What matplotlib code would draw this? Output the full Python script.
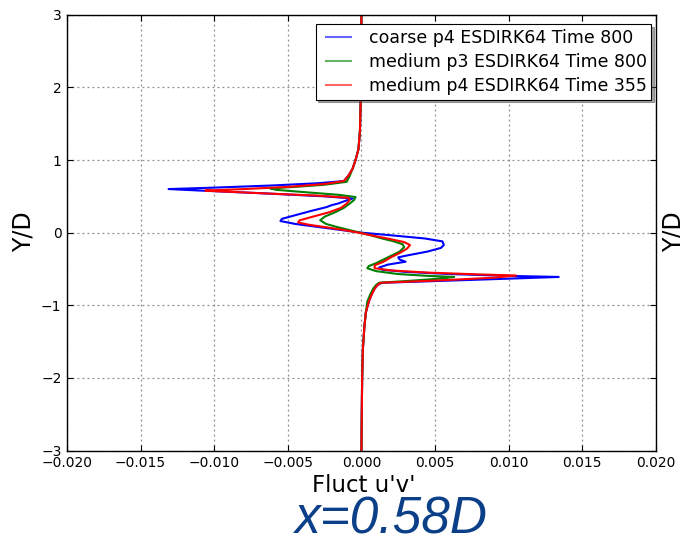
import matplotlib
matplotlib.use("Agg")
import matplotlib.pyplot as plt
from matplotlib.legend_handler import HandlerLine2D

# Reynolds-stress fluctuation u'v' profiles across the wake at x = 0.58D
y_coarse_p4 = [-3.0, -2.5, -2.0, -1.6, -1.3, -1.1, -0.95, -0.85, -0.77, -0.72, -0.69,
               -0.66, -0.63, -0.61, -0.595, -0.57, -0.54, -0.51, -0.48, -0.44, -0.40,
               -0.37, -0.34, -0.31, -0.26, -0.21, -0.17, -0.12, -0.08, -0.04, 0.0,
               0.04, 0.08, 0.12, 0.16, 0.19, 0.24, 0.30, 0.35, 0.38, 0.40, 0.43, 0.47,
               0.50, 0.54, 0.58, 0.60, 0.62, 0.65, 0.68, 0.71, 0.78, 0.88, 1.0, 1.15,
               1.4, 2.0, 3.0]
uv_coarse_p4 = [0.0, 0.00002, 0.00005, 0.0001, 0.0002, 0.0003, 0.0005, 0.0007, 0.0009,
                0.0011, 0.0014, 0.0060, 0.0105, 0.0134, 0.0100, 0.0060, 0.0030, 0.0014,
                0.0012, 0.0018, 0.0030, 0.0026, 0.0025, 0.0032, 0.0045, 0.0054, 0.0056,
                0.0055, 0.0043, 0.0022, 0.0000, -0.0015, -0.0030, -0.0045, -0.0055,
                -0.0054, -0.0045, -0.0034, -0.0024, -0.0020, -0.0016, -0.0012, -0.0006,
                -0.0025, -0.0065, -0.0110, -0.0131, -0.0100, -0.0060, -0.0030, -0.0012,
                -0.0009, -0.0006, -0.0004, -0.0002, -0.0001, -0.00003, 0.0]

y_medium_p3 = [-3.0, -2.0, -1.6, -1.3, -1.1, -0.95, -0.85, -0.77, -0.72, -0.69, -0.66,
               -0.63, -0.61, -0.595, -0.57, -0.53, -0.49, -0.46, -0.42, -0.37, -0.32,
               -0.26, -0.20, -0.16, -0.12, -0.08, -0.04, 0.0, 0.04, 0.08, 0.12, 0.17,
               0.22, 0.28, 0.34, 0.40, 0.45, 0.49, 0.52, 0.56, 0.59, 0.61, 0.63, 0.66,
               0.70, 0.78, 0.88, 1.0, 1.15, 1.4, 2.0, 3.0]
uv_medium_p3 = [0.0, 0.00005, 0.0001, 0.0002, 0.0003, 0.0004, 0.0006, 0.0008, 0.0010,
                0.0012, 0.0035, 0.0055, 0.0063, 0.0045, 0.0025, 0.0010, 0.0004, 0.0005,
                0.0010, 0.0015, 0.0020, 0.0026, 0.0029, 0.0028, 0.0022, 0.0014, 0.0007,
                -0.0001, -0.0009, -0.0017, -0.0024, -0.0028, -0.0025, -0.0018, -0.0012,
                -0.0008, -0.0005, -0.0004, -0.0015, -0.0040, -0.0058, -0.0062, -0.0045,
                -0.0025, -0.0010, -0.0008, -0.0006, -0.0004, -0.0002, -0.0001, -0.00003,
                0.0]

y_medium_p4 = [-3.0, -2.0, -1.6, -1.3, -1.1, -0.95, -0.85, -0.77, -0.72, -0.69, -0.66,
               -0.62, -0.59, -0.575, -0.55, -0.52, -0.49, -0.45, -0.40, -0.34, -0.28,
               -0.22, -0.17, -0.13, -0.09, -0.05, 0.0, 0.04, 0.08, 0.11, 0.14, 0.17,
               0.22, 0.28, 0.34, 0.40, 0.45, 0.48, 0.51, 0.54, 0.57, 0.58, 0.60, 0.63,
               0.67, 0.71, 0.78, 0.88, 1.0, 1.15, 1.4, 2.0, 3.0]
uv_medium_p4 = [0.0, 0.00005, 0.0001, 0.0002, 0.0003, 0.0005, 0.0007, 0.0009, 0.0011,
                0.0013, 0.0050, 0.0090, 0.0105, 0.0080, 0.0045, 0.0020, 0.0009, 0.0009,
                0.0015, 0.0020, 0.0026, 0.0031, 0.0033, 0.0029, 0.0020, 0.0010, -0.0002,
                -0.0013, -0.0026, -0.0036, -0.0043, -0.0042, -0.0033, -0.0022, -0.0014,
                -0.0010, -0.0008, -0.0009, -0.0030, -0.0065, -0.0098, -0.0106, -0.0080,
                -0.0050, -0.0025, -0.0012, -0.0009, -0.0006, -0.0004, -0.0002, -0.0001,
                -0.00003, 0.0]

labels = ["coarse p4 ESDIRK64 Time 800",
          "medium p3 ESDIRK64 Time 800",
          "medium p4 ESDIRK64 Time 355"]
colors = ["#0000ff", "#008000", "#ff0000"]

x_ticks = [-0.020, -0.015, -0.010, -0.005, 0.000, 0.005, 0.010, 0.015, 0.020]
y_ticks = [-3, -2, -1, 0, 1, 2, 3]

fig = plt.figure(figsize=(6.8, 5.37), dpi=100)
ax = fig.add_axes([0.0985, 0.161, 0.866, 0.8115])

series = [(uv_coarse_p4, y_coarse_p4), (uv_medium_p3, y_medium_p3), (uv_medium_p4, y_medium_p4)]
lines = []
for (xv, yv), lab, col in zip(series, labels, colors):
    ln, = ax.plot(xv, yv, color=col, lw=1.5, label=lab)
    lines.append(ln)

ax.set_xlim(-0.02, 0.02)
ax.set_ylim(-3, 3)
ax.set_xticks(x_ticks)
ax.set_xticklabels([f"{v:.3f}".replace("-", "\u2212") for v in x_ticks])
ax.set_yticks(y_ticks)
ax.set_yticklabels([str(v).replace("-", "\u2212") for v in y_ticks])
ax.tick_params(direction="in", top=True, right=True, length=4, width=0.8,
               labelsize=10, pad=4)
ax.grid(True, color="0.55", linestyle=(0, (1.5, 2.5)), linewidth=0.9)
for s in ax.spines.values():
    s.set_linewidth(1.0)
    s.set_color("black")


def pale_handle(legline, orig):
    legline.update_from(orig)
    legline.set_alpha(0.6)


handler = HandlerLine2D(xpad=0.33, update_func=pale_handle)
leg = ax.legend(loc="upper right", bbox_to_anchor=(0.992, 0.978), borderaxespad=0,
                fontsize=12.5, frameon=True, fancybox=False, shadow=True,
                borderpad=0.25, labelspacing=0.36, handlelength=1.82,
                handletextpad=1.0,
                handler_map={ln: handler for ln in lines})
leg.get_frame().set_edgecolor("black")
leg.get_frame().set_linewidth(0.8)

fig.text(24 / 680, 1 - 232 / 537, "Y/D", rotation=90, ha="center", va="center",
         fontsize=17)
fig.text(674 / 680, 1 - 232 / 537, "Y/D", rotation=90, ha="center", va="center",
         fontsize=17)
fig.text(364 / 680, 1 - 492 / 537, "Fluct u'v'", ha="center", va="baseline",
         fontsize=16.5)
fig.text(391 / 680, 1 - 533 / 537, "x=0.58D", ha="center", va="baseline",
         fontsize=37, style="italic", family="Liberation Sans", color="#0b3f88")

fig.savefig("out.png", dpi=100)
